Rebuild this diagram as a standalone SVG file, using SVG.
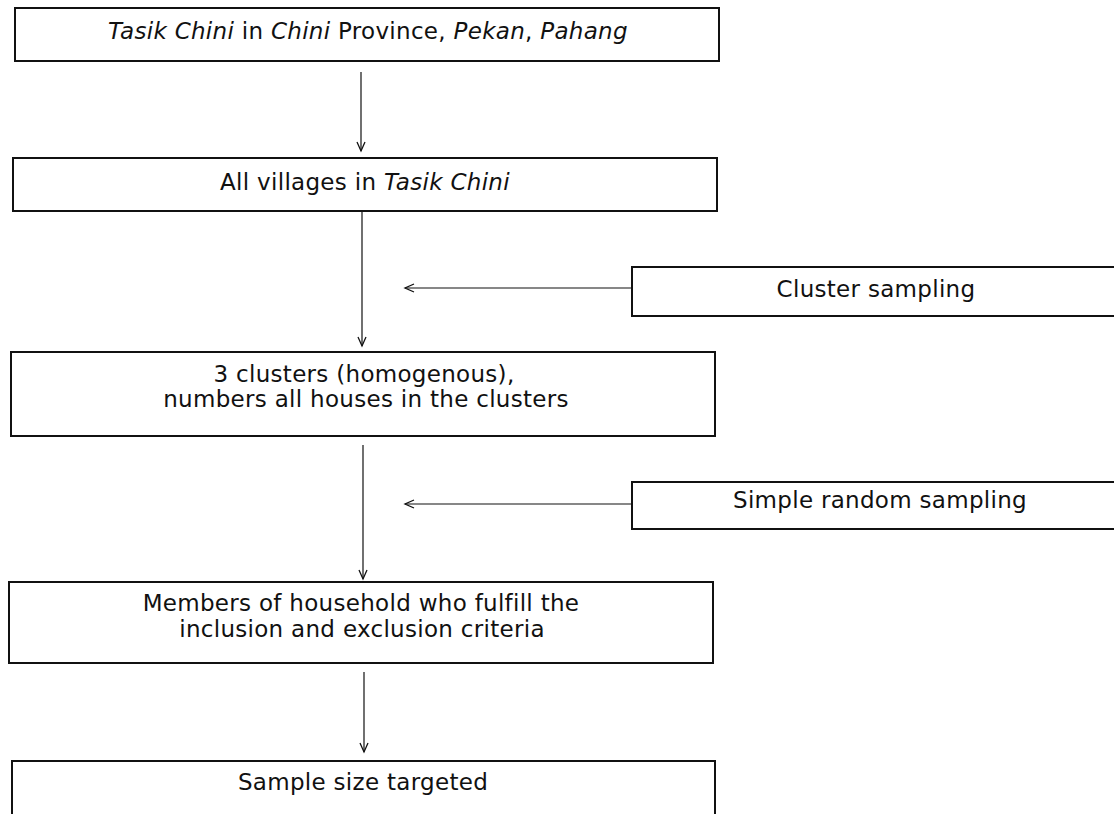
<svg xmlns="http://www.w3.org/2000/svg" width="1114" height="814" viewBox="0 0 1114 814">
<defs>
<marker id="arr" markerWidth="12" markerHeight="12" refX="10" refY="5" orient="auto" markerUnits="userSpaceOnUse" viewBox="0 0 12 10">
<path d="M1,1 L10,5 L1,9" fill="none" stroke="#111" stroke-width="1.3"/>
</marker>
<style>
.box{fill:#fff;stroke:#111;stroke-width:2}
.t{font-family:"DejaVu Sans","Liberation Sans",sans-serif;font-size:23px;letter-spacing:0.3px;fill:#111;text-anchor:middle}
.i{font-style:italic}
.c{stroke:#111;stroke-width:1.2;fill:none;marker-end:url(#arr)}
</style>
</defs>
<rect width="1114" height="814" fill="#fff"/>
<g id="connectors">
<line class="c" x1="361" y1="72" x2="361" y2="151"/>
<line class="c" x1="362" y1="212" x2="362" y2="346"/>
<line class="c" x1="632" y1="288" x2="405" y2="288"/>
<line class="c" x1="363" y1="445" x2="363" y2="579"/>
<line class="c" x1="632" y1="504" x2="405" y2="504"/>
<line class="c" x1="364" y1="672" x2="364" y2="752"/>
</g>
<g id="n1">
<rect class="box" x="15" y="8" width="704" height="53"/>
<text class="t" x="368" y="39"><tspan class="i">Tasik Chini</tspan> in <tspan class="i">Chini</tspan> Province, <tspan class="i">Pekan</tspan>, <tspan class="i">Pahang</tspan></text>
</g>
<g id="n2">
<rect class="box" x="13" y="158" width="704" height="53"/>
<text class="t" x="365" y="190">All villages in <tspan class="i">Tasik Chini</tspan></text>
</g>
<g id="n3">
<rect class="box" x="632" y="267" width="490" height="49"/>
<text class="t" x="876" y="297">Cluster sampling</text>
</g>
<g id="n4">
<rect class="box" x="11" y="352" width="704" height="84"/>
<text class="t" x="364" y="382">3 clusters (homogenous),</text>
<text class="t" x="366" y="407">numbers all houses in the clusters</text>
</g>
<g id="n5">
<rect class="box" x="632" y="482" width="490" height="47"/>
<text class="t" x="880" y="508">Simple random sampling</text>
</g>
<g id="n6">
<rect class="box" x="9" y="582" width="704" height="81"/>
<text class="t" x="361" y="611">Members of household who fulfill the</text>
<text class="t" x="362" y="637">inclusion and exclusion criteria</text>
</g>
<g id="n7">
<rect class="box" x="12" y="761" width="703" height="80"/>
<text class="t" x="363" y="790">Sample size targeted</text>
</g>
</svg>
